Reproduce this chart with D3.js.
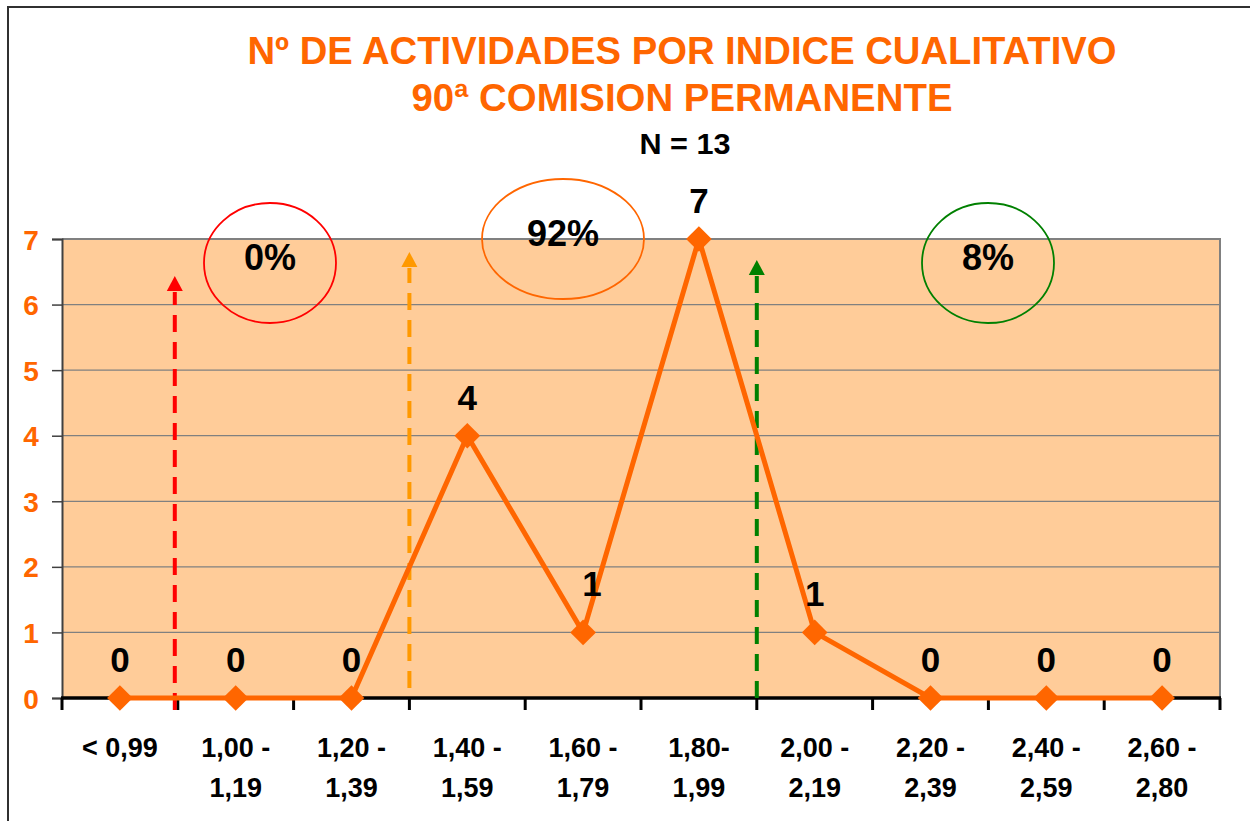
<!DOCTYPE html>
<html>
<head>
<meta charset="utf-8">
<script src="https://cdn.jsdelivr.net/npm/d3@7"></script>
<style>
  body { margin: 0; background: #fff; }
  svg { display: block; font-family: "Liberation Sans", Arial, sans-serif; }
</style>
</head>
<body>
<svg id="chart" width="1250" height="821"></svg>
<script>
(function () {
  "use strict";

  // chart data
  var categories = ["< 0,99", "1,00 -\n1,19", "1,20 -\n1,39", "1,40 -\n1,59", "1,60 -\n1,79",
                    "1,80-\n1,99", "2,00 -\n2,19", "2,20 -\n2,39", "2,40 -\n2,59", "2,60 -\n2,80"];
  var counts = [0, 0, 0, 4, 1, 7, 1, 0, 0, 0];
  var yTicks = [0, 1, 2, 3, 4, 5, 6, 7];
  var titleLines = ["Nº DE ACTIVIDADES POR INDICE CUALITATIVO", "90ª COMISION PERMANENTE"];
  var subtitle = "N = 13";

  // range groups: label, colour, category index where the arrow sits
  var groupLabels = ["0%", "92%", "8%"];
  var groupColors = ["#FF0000", "#FF6600", "#008000"];
  var arrowColors = ["#FF0000", "#FF9900", "#008000"];
  var groupStartIdx = [1, 3, 6];

  var orange = "#FF6600";
  var svg = d3.select("#chart");
  var plot = {left: 62, top: 239, right: 1220, bottom: 698};

  var x = d3.scaleBand().domain(d3.range(categories.length))
    .range([plot.left, plot.right]).padding(0);
  var y = d3.scaleLinear().domain([0, 7]).range([plot.bottom, plot.top]);
  var cx = function (i) { return x(i) + x.bandwidth() / 2; };

  // outer frame
  svg.append("path")
    .attr("d", "M8,821 L8,7 L1250,7")
    .attr("fill", "none").attr("stroke", "#303030").attr("stroke-width", 2);

  // titles
  var titleLen = [869, 541];
  titleLines.forEach(function (t, i) {
    svg.append("text")
      .attr("x", 682).attr("y", 64 + i * 47)
      .attr("text-anchor", "middle")
      .attr("font-size", 38).attr("font-weight", "bold")
      .attr("fill", orange)
      .attr("textLength", titleLen[i]).attr("lengthAdjust", "spacingAndGlyphs")
      .text(t);
  });
  svg.append("text")
    .attr("x", 685).attr("y", 154)
    .attr("text-anchor", "middle")
    .attr("font-size", 29).attr("font-weight", "bold")
    .attr("fill", "#000")
    .attr("textLength", 91).attr("lengthAdjust", "spacingAndGlyphs")
    .text(subtitle);

  // plot background
  svg.append("rect")
    .attr("x", plot.left).attr("y", plot.top)
    .attr("width", plot.right - plot.left).attr("height", plot.bottom - plot.top)
    .attr("fill", "#FFCC99");

  // gridlines
  svg.append("g").selectAll("line").data(yTicks.filter(function (d) { return d > 0 && d < 7; }))
    .join("line")
    .attr("x1", plot.left).attr("x2", plot.right)
    .attr("y1", function (d) { return y(d); }).attr("y2", function (d) { return y(d); })
    .attr("stroke", "#808080").attr("stroke-width", 1.2);

  // top + right border of plot
  svg.append("path")
    .attr("d", "M" + plot.left + "," + plot.top + " L" + plot.right + "," + plot.top + " L" + plot.right + "," + plot.bottom)
    .attr("fill", "none").attr("stroke", "#808080").attr("stroke-width", 2);

  // y axis
  var yAxis = d3.axisLeft(y).tickValues(yTicks).tickFormat(d3.format("d")).tickSize(10).tickPadding(12);
  var gy = svg.append("g").attr("transform", "translate(" + plot.left + ",0)").call(yAxis);
  gy.select(".domain").attr("stroke", "#404040").attr("stroke-width", 2);
  gy.selectAll(".tick line").attr("stroke", "#404040").attr("stroke-width", 1.5);
  gy.selectAll(".tick text")
    .attr("fill", orange).attr("font-size", 28).attr("font-weight", "bold")
    .attr("font-family", "Liberation Sans, Arial, sans-serif")
    .attr("x", -31).attr("text-anchor", "middle").attr("dy", "0.36em");

  // x axis: boundary ticks
  var bounds = d3.range(categories.length + 1).map(function (i) {
    return i < categories.length ? x(i) : plot.right;
  });
  svg.append("g").selectAll("line").data(bounds).join("line")
    .attr("x1", function (d) { return d; }).attr("x2", function (d) { return d; })
    .attr("y1", plot.bottom).attr("y2", plot.bottom + 12)
    .attr("stroke", "#000").attr("stroke-width", 3);
  svg.append("line")
    .attr("x1", plot.left - 1).attr("x2", plot.right + 1)
    .attr("y1", plot.bottom).attr("y2", plot.bottom)
    .attr("stroke", "#000").attr("stroke-width", 3.5);

  // category labels
  var xl = svg.append("g").selectAll("text").data(categories).join("text")
    .attr("text-anchor", "middle")
    .attr("font-size", 27).attr("font-weight", "bold").attr("fill", "#000");
  xl.each(function (d, i) {
    var parts = d.split("\n");
    d3.select(this).selectAll("tspan").data(parts).join("tspan")
      .attr("x", cx(i))
      .attr("y", function (p, j) { return 757 + j * 40; })
      .text(function (p) { return p; });
  });

  // dashed arrows
  var arrowTop = [276, 252, 260];
  var arrowBottom = [710, 688, 698];
  groupStartIdx.forEach(function (idx, i) {
    var ax = x(idx) - (i === 0 ? 3 : 0);
    svg.append("line")
      .attr("x1", ax).attr("x2", ax)
      .attr("y1", arrowBottom[i]).attr("y2", arrowTop[i] + 16)
      .attr("stroke", arrowColors[i]).attr("stroke-width", 4)
      .attr("stroke-dasharray", "17,10");
    svg.append("path")
      .attr("d", "M" + (ax - 8) + "," + (arrowTop[i] + 15) + " L" + ax + "," + arrowTop[i] + " L" + (ax + 8) + "," + (arrowTop[i] + 15) + "Z")
      .attr("fill", arrowColors[i]);
  });

  // group ellipses + labels
  var ell = [[270, 263, 66, 60], [563, 239, 81, 60], [988, 263, 66, 60]];
  var labBase = [270, 246, 270];
  groupLabels.forEach(function (lab, i) {
    svg.append("ellipse")
      .attr("cx", ell[i][0]).attr("cy", ell[i][1])
      .attr("rx", ell[i][2]).attr("ry", ell[i][3])
      .attr("fill", "none").attr("stroke", groupColors[i]).attr("stroke-width", 1.8);
    svg.append("text")
      .attr("x", ell[i][0]).attr("y", labBase[i])
      .attr("text-anchor", "middle")
      .attr("font-size", 36).attr("font-weight", "bold").attr("fill", "#000")
      .text(lab);
  });

  // series line
  var line = d3.line().x(function (d, i) { return cx(i); }).y(function (d) { return y(d); });
  svg.append("path").datum(counts)
    .attr("d", line)
    .attr("fill", "none").attr("stroke", orange).attr("stroke-width", 5)
    .attr("stroke-linejoin", "miter");

  // diamond markers
  var diamond = d3.symbol().type(d3.symbolDiamond2).size(420);
  svg.append("g").selectAll("path").data(counts).join("path")
    .attr("transform", function (d, i) { return "translate(" + cx(i) + "," + y(d) + ")"; })
    .attr("d", diamond)
    .attr("fill", orange);

  // value labels (the one on the 1,60 valley is nudged up-right, as in the original)
  svg.append("g").selectAll("text").data(counts).join("text")
    .attr("x", function (d, i) { return cx(i) + (i === 4 ? 9 : 0); })
    .attr("y", function (d, i) { return y(d) - (i === 4 ? 36 : 26); })
    .attr("text-anchor", "middle")
    .attr("font-size", 35).attr("font-weight", "bold").attr("fill", "#000")
    .text(function (d) { return d; });
})();
</script>
</body>
</html>
